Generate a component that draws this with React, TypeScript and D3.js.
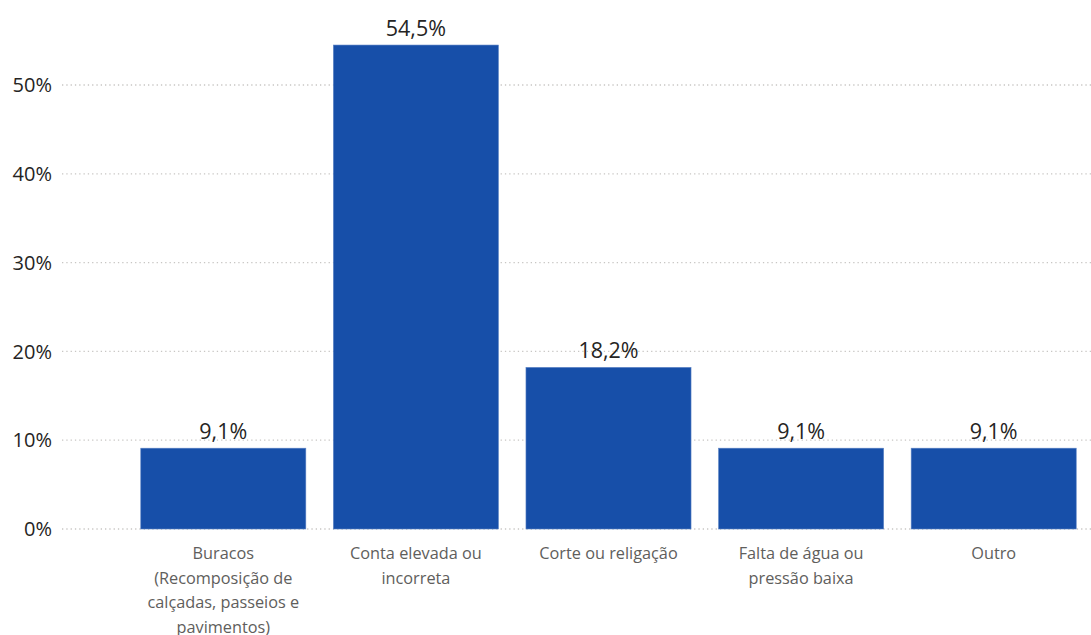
import React from "react";
import * as d3 from "d3";

const categories: string[][] = [
  ["Buracos", "(Recomposição de", "calçadas, passeios e", "pavimentos)"],
  ["Conta elevada ou", "incorreta"],
  ["Corte ou religação"],
  ["Falta de água ou", "pressão baixa"],
  ["Outro"],
];
const values: number[] = [9.1, 54.5, 18.2, 9.1, 9.1];
const valueLabels: string[] = ["9,1%", "54,5%", "18,2%", "9,1%", "9,1%"];
const yTicks: number[] = [0, 10, 20, 30, 40, 50];

const W = 1091;
const H = 635;
const FONT = "'Open Sans', 'Noto Sans', sans-serif";

export default function App() {
  const ids = categories.map((_, i) => String(i));
  const x = d3
    .scaleBand<string>()
    .domain(ids)
    .range([127, 1090])
    .paddingInner(0.143)
    .paddingOuter(0.0715);
  const y = d3.scaleLinear().domain([0, 50]).range([529, 85]);

  return (
    <svg
      width={W}
      height={H}
      style={{ position: "absolute", left: 0, top: 0, background: "#fff" }}
      fontFamily={FONT}
    >
      {yTicks.map((t) => (
        <g key={t}>
          <line
            x1={62}
            x2={1091}
            y1={y(t)}
            y2={y(t)}
            stroke="#c8c6c4"
            strokeWidth={1.3}
            strokeDasharray="1.3,3"
          />
          <text
            x={52}
            y={y(t)}
            dy="0.36em"
            textAnchor="end"
            fontSize={20}
            fill="#252423"
          >
            {t}%
          </text>
        </g>
      ))}
      {values.map((v, i) => {
        const bx = x(String(i))!;
        const bw = x.bandwidth();
        return (
          <g key={i}>
            <rect
              x={bx}
              y={y(v)}
              width={bw}
              height={y(0) - y(v)}
              fill="#174FA9"
              stroke="#5b82c4"
              strokeWidth={0.6}
            />
            <text
              x={bx + bw / 2}
              y={y(v) - 9}
              textAnchor="middle"
              fontSize={21.5}
              fill="#252423"
            >
              {valueLabels[i]}
            </text>
            <text
              x={bx + bw / 2}
              y={559}
              textAnchor="middle"
              fontSize={16.3}
              fill="#605e5c"
            >
              {categories[i].map((line, j) => (
                <tspan key={j} x={bx + bw / 2} dy={j === 0 ? 0 : 24.7}>
                  {line}
                </tspan>
              ))}
            </text>
          </g>
        );
      })}
    </svg>
  );
}
